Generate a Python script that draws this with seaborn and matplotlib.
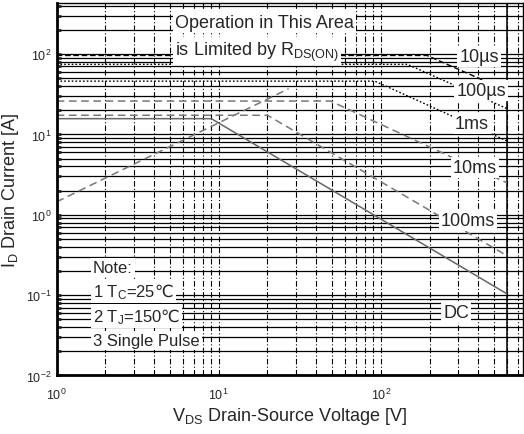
import numpy as np
import pandas as pd
import seaborn as sns
import matplotlib
matplotlib.use("Agg")
import matplotlib.pyplot as plt
from matplotlib.ticker import LogLocator, NullFormatter

# curve data (V in volts, I in amps)
rds_v = [1, 27]
rds_i = [1.45, 37]

us10_v = [1, 193, 600]
us10_i = [96, 96, 35]
us100_v = [1, 146, 600]
us100_i = [74.5, 74.5, 21]
ms1_v = [1, 92, 600]
ms1_i = [46, 46, 8.3]
ms10_v = [1, 49, 600]
ms10_i = [26, 26, 2.5]
ms100_v = [1, 20, 600]
ms100_i = [17.3, 17.3, 0.31]
dc_v = [1, 9, 600]
dc_i = [15.7, 15.7, 0.104]

curve_names = ["10\u00b5s", "100\u00b5s", "1ms", "10ms", "100ms", "DC"]
label_v = [404, 416, 365, 382, 346, 292]
label_i = [93, 35, 13.6, 3.9, 0.85, 0.061]

v_max = 600

sns.set_theme(style="white")
plt.rcParams['font.family'] = ['Liberation Sans Narrow', 'Liberation Sans', 'DejaVu Sans']
plt.rcParams['mathtext.default'] = 'regular'
plt.rcParams['mathtext.fontset'] = 'dejavusans'

fig = plt.figure(figsize=(5.24, 4.35), dpi=100)
ax = fig.add_axes([0.1082, 0.1345, 0.889, 0.856])
ax.set_xscale('log')
ax.set_yscale('log')
ax.set_xlim(1, 750)
ax.set_ylim(0.01, 430)

# grid: solid horizontal, dash-dot vertical
ax.grid(which='both', axis='y', color='black', lw=0.9, ls='-')
ax.grid(which='both', axis='x', color='black', lw=0.8, ls=(0, (5, 2, 1, 2)))
ax.axvline(v_max, color='black', lw=1.1)

styles = [
    dict(color='black', ls=(0, (4, 2)), lw=1.0),
    dict(color='black', ls=(0, (1.2, 1.5)), lw=1.0),
    dict(color='black', ls=(0, (1.2, 1.5)), lw=1.0),
    dict(color='#777777', ls=(0, (5, 3)), lw=1.1),
    dict(color='#777777', ls=(0, (5, 3)), lw=1.1),
    dict(color='#666666', ls='-', lw=1.1),
]
curves = [(us10_v, us10_i), (us100_v, us100_i), (ms1_v, ms1_i),
          (ms10_v, ms10_i), (ms100_v, ms100_i), (dc_v, dc_i)]

for (v, i), st in zip(curves, styles):
    df = pd.DataFrame({'V': v, 'I': i})
    sns.lineplot(data=df, x='V', y='I', ax=ax, sort=False, **st)

df_rds = pd.DataFrame({'V': rds_v, 'I': rds_i})
sns.lineplot(data=df_rds, x='V', y='I', ax=ax, sort=False,
             color='#777777', ls=(0, (5, 3)), lw=1.1)

box = dict(facecolor='white', edgecolor='none', pad=1.5)
for name, lv, li in zip(curve_names, label_v, label_i):
    ax.text(lv, li, name, ha='center', va='center', fontsize=13, bbox=box, zorder=5)

ax.text(0.254, 0.949, "Operation in This Area", transform=ax.transAxes,
        ha='left', va='center', fontsize=13, bbox=box, zorder=5)
ax.text(0.254, 0.871, r"is Limited by R$_{\mathregular{DS(ON)}}$", transform=ax.transAxes,
        ha='left', va='center', fontsize=13, bbox=box, zorder=5)

ax.text(0.078, 0.291, "Note:", transform=ax.transAxes, ha='left', va='center',
        fontsize=12, bbox=box, zorder=5)
ax.text(0.078, 0.227, "1 T$_{\\mathregular{C}}$=25$\\mathrm{\u2103}$", transform=ax.transAxes,
        ha='left', va='center', fontsize=12, bbox=box, zorder=5)
ax.text(0.078, 0.160, "2 T$_{\\mathregular{J}}$=150$\\mathrm{\u2103}$", transform=ax.transAxes,
        ha='left', va='center', fontsize=12, bbox=box, zorder=5)
ax.text(0.078, 0.093, "3 Single Pulse", transform=ax.transAxes, ha='left', va='center',
        fontsize=12, bbox=box, zorder=5)

ax.xaxis.set_major_locator(LogLocator(base=10, numticks=10))
ax.xaxis.set_minor_locator(LogLocator(base=10, subs=np.arange(2, 10), numticks=20))
ax.yaxis.set_major_locator(LogLocator(base=10, numticks=10))
ax.yaxis.set_minor_locator(LogLocator(base=10, subs=np.arange(2, 10), numticks=20))
ax.xaxis.set_minor_formatter(NullFormatter())
ax.yaxis.set_minor_formatter(NullFormatter())
ax.tick_params(axis='x', which='both', length=0, labelsize=9, pad=8)
ax.tick_params(axis='y', which='both', direction='in', length=3, width=2, left=True, labelsize=9)

for side in ['left', 'bottom']:
    ax.spines[side].set_linewidth(2)
    ax.spines[side].set_color('black')
for side in ['top', 'right']:
    ax.spines[side].set_linewidth(1)
    ax.spines[side].set_color('black')

ax.set_xlabel(r"V$_{\mathregular{DS}}$ Drain-Source Voltage [V]", fontsize=13, labelpad=2)
ax.set_ylabel(r"I$_{\mathregular{D}}$ Drain Current [A]", fontsize=13, labelpad=4)

fig.savefig("out.png", dpi=100)
